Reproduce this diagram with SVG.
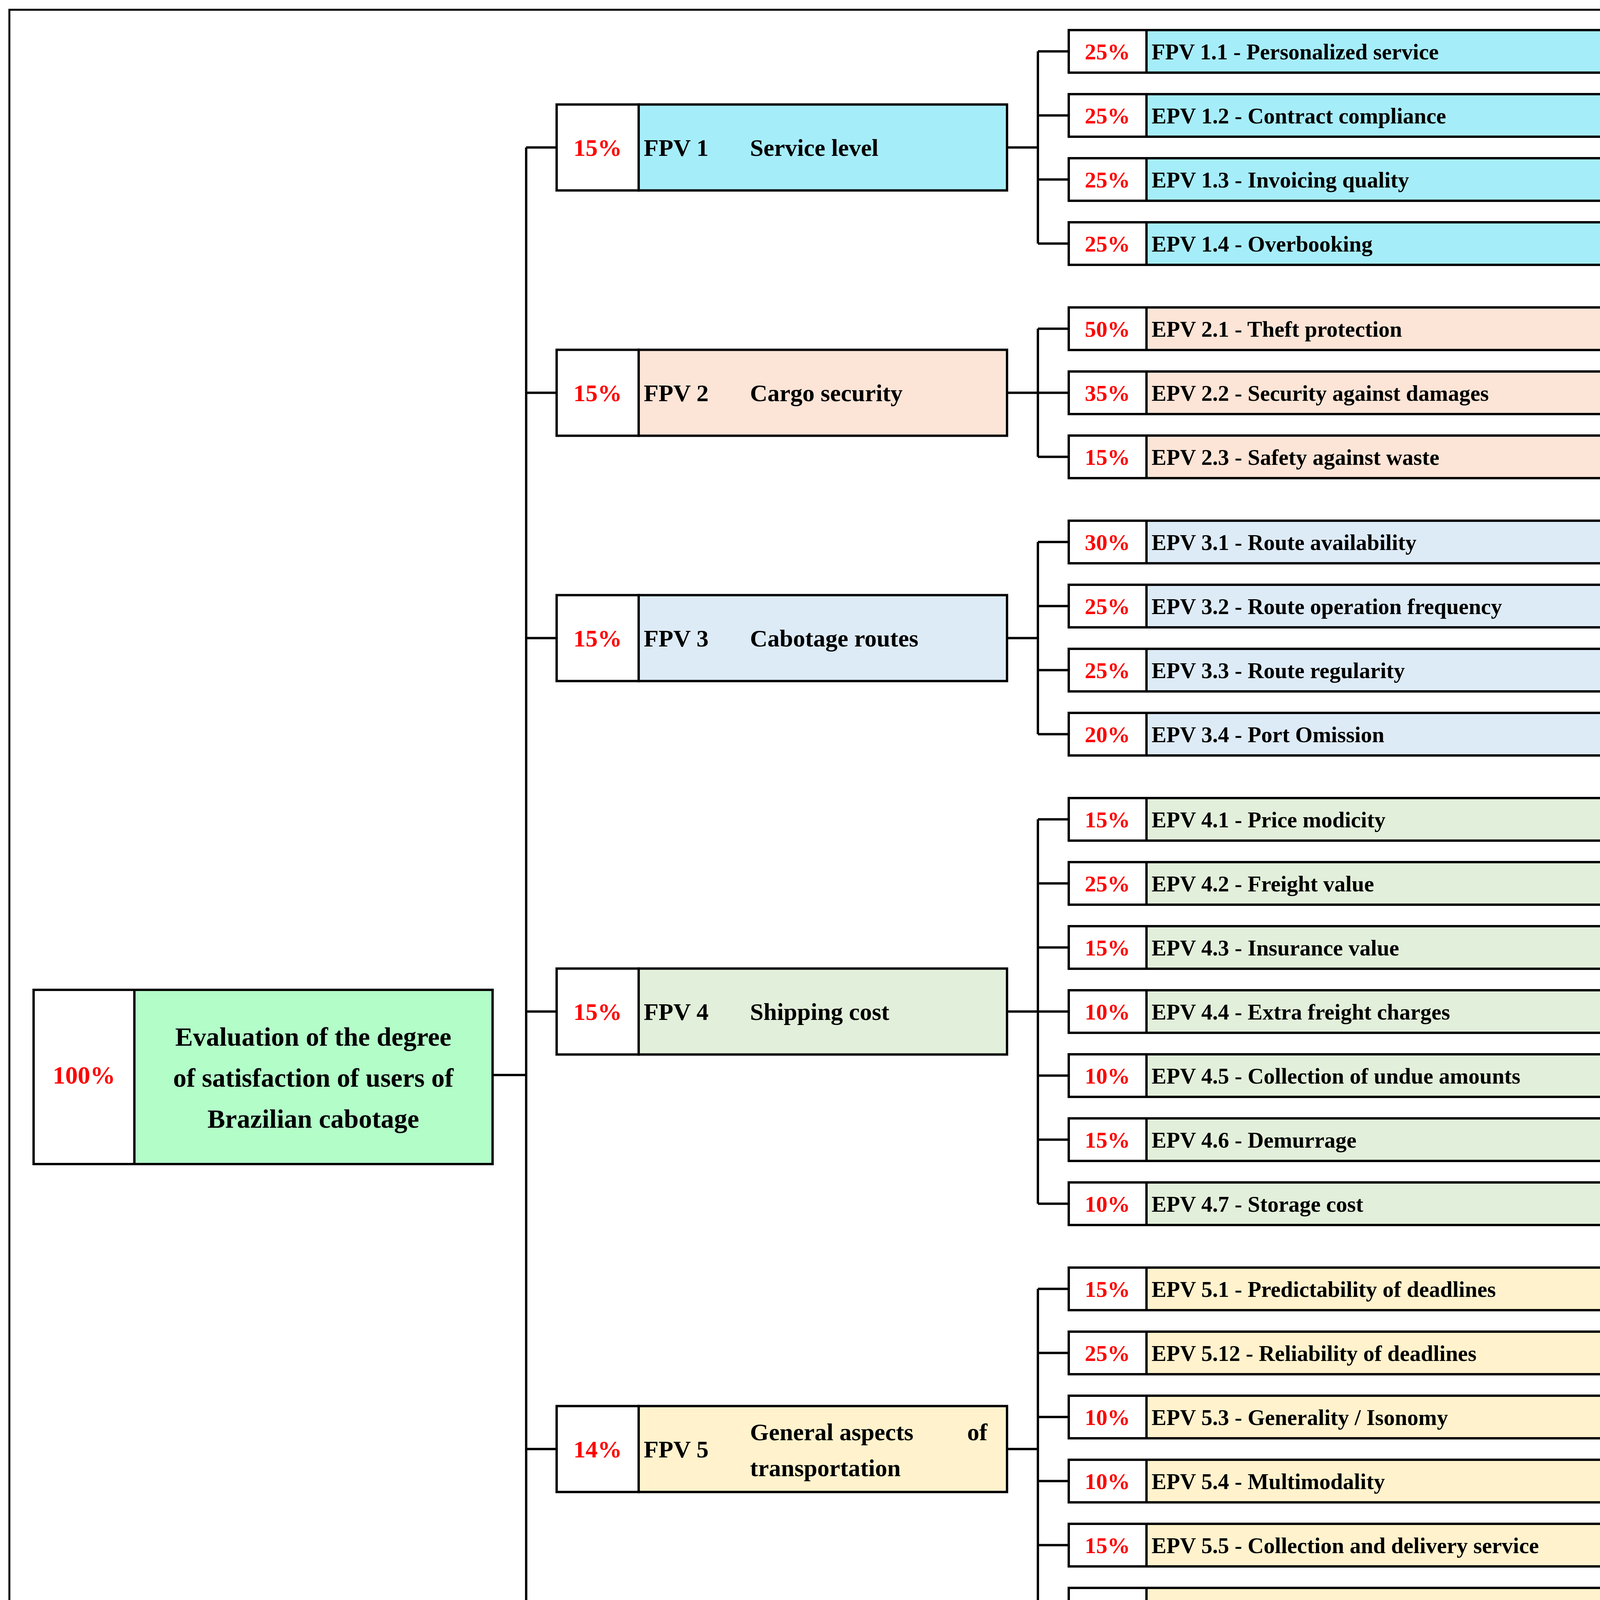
<svg xmlns="http://www.w3.org/2000/svg" width="4272" height="5678" viewBox="0 0 4272 5678">
<style>
text{font-family:"Liberation Serif","DejaVu Serif",serif;font-weight:bold}
.b{stroke:#000;stroke-width:6}
.p{fill:#f00;font-size:58px;text-anchor:middle}
.t{fill:#000;font-size:57px}
.f{fill:#000;font-size:62px}
.fp{fill:#f00;font-size:62px;text-anchor:middle}
.w{fill:#fff}
.c1{fill:#a6edfa}.c2{fill:#fce4d6}.c3{fill:#ddebf7}.c4{fill:#e2efda}.c5{fill:#fff2cc}.c6{fill:#d9e1f2}.c7{fill:#ededed}
.ln{fill:none;stroke:#000;stroke-width:6}
</style>
<rect x="0" y="0" width="4272" height="5678" fill="#fff"/>
<rect x="24" y="25" width="4221" height="5620" fill="none" stroke="#000" stroke-width="5"/>
<g id="connectors" class="ln">
<path d="M1261 2752H1347M1347 377.5V5211.5"/>
<path d="M1347 377.5H1425M1347 1005.5H1425M1347 1633.5H1425M1347 2589.5H1425M1347 3709.5H1425M1347 4501.5H1425M1347 5211.5H1425"/>
<path d="M2578 377.5H2657M2657 131.5V623.5M2657 131.5H2736M2657 295.5H2736M2657 459.5H2736M2657 623.5H2736"/>
<path d="M2578 1005.5H2657M2657 841.5V1169.5M2657 841.5H2736M2657 1005.5H2736M2657 1169.5H2736"/>
<path d="M2578 1633.5H2657M2657 1387.5V1879.5M2657 1387.5H2736M2657 1551.5H2736M2657 1715.5H2736M2657 1879.5H2736"/>
<path d="M2578 2589.5H2657M2657 2097.5V3081.5M2657 2097.5H2736M2657 2261.5H2736M2657 2425.5H2736M2657 2589.5H2736M2657 2753.5H2736M2657 2917.5H2736M2657 3081.5H2736"/>
<path d="M2578 3709.5H2657M2657 3299.5V4119.5M2657 3299.5H2736M2657 3463.5H2736M2657 3627.5H2736M2657 3791.5H2736M2657 3955.5H2736M2657 4119.5H2736"/>
<path d="M2578 4501.5H2657M2657 4337.5V4665.5M2657 4337.5H2736M2657 4501.5H2736M2657 4665.5H2736"/>
<path d="M2578 5211.5H2657M2657 4883.5V5539.5M2657 4883.5H2736M2657 5047.5H2736M2657 5211.5H2736M2657 5375.5H2736M2657 5539.5H2736"/>
</g>
<g id="root">
<rect class="b w" x="86" y="2534" width="258" height="446"/>
<rect class="b" x="344" y="2534" width="917" height="446" fill="#b3fdc9"/>
<text class="fp" x="215" y="2774" style="font-size:64px">100%</text>
<text class="f" x="802" y="2677" text-anchor="middle" style="font-size:68px">Evaluation of the degree</text>
<text class="f" x="802" y="2782" text-anchor="middle" style="font-size:68px">of satisfaction of users of</text>
<text class="f" x="802" y="2887" text-anchor="middle" style="font-size:68px">Brazilian cabotage</text>
</g>
<g id="fpv1"><rect class="b w" x="1425" y="267.5" width="210" height="220"/><rect class="b c1" x="1635" y="267.5" width="943" height="220"/><text class="fp" x="1530" y="399">15%</text><text class="f" x="1648" y="399">FPV 1</text><text class="f" x="1920" y="399">Service level</text></g>
<g id="fpv2"><rect class="b w" x="1425" y="895.5" width="210" height="220"/><rect class="b c2" x="1635" y="895.5" width="943" height="220"/><text class="fp" x="1530" y="1027">15%</text><text class="f" x="1648" y="1027">FPV 2</text><text class="f" x="1920" y="1027">Cargo security</text></g>
<g id="fpv3"><rect class="b w" x="1425" y="1523.5" width="210" height="220"/><rect class="b c3" x="1635" y="1523.5" width="943" height="220"/><text class="fp" x="1530" y="1655">15%</text><text class="f" x="1648" y="1655">FPV 3</text><text class="f" x="1920" y="1655">Cabotage routes</text></g>
<g id="fpv4"><rect class="b w" x="1425" y="2479.5" width="210" height="220"/><rect class="b c4" x="1635" y="2479.5" width="943" height="220"/><text class="fp" x="1530" y="2611">15%</text><text class="f" x="1648" y="2611">FPV 4</text><text class="f" x="1920" y="2611">Shipping cost</text></g>
<g id="fpv5"><rect class="b w" x="1425" y="3599.5" width="210" height="220"/><rect class="b c5" x="1635" y="3599.5" width="943" height="220"/><text class="fp" x="1530" y="3731">14%</text><text class="f" x="1648" y="3731">FPV 5</text><text class="f" x="1920" y="3687">General aspects</text><text class="f" x="2476" y="3687">of</text><text class="f" x="1920" y="3779">transportation</text></g>
<g id="fpv6"><rect class="b w" x="1425" y="4391.5" width="210" height="220"/><rect class="b c6" x="1635" y="4391.5" width="943" height="220"/><text class="fp" x="1530" y="4523">13%</text><text class="f" x="1648" y="4523">FPV 6</text><text class="f" x="1920" y="4481">Quality of</text><text class="f" x="1920" y="4571">information</text></g>
<g id="fpv7"><rect class="b w" x="1425" y="5101.5" width="210" height="220"/><rect class="b c7" x="1635" y="5101.5" width="943" height="220"/><text class="fp" x="1530" y="5233">13%</text><text class="f" x="1648" y="5233">FPV 7</text><text class="f" x="1920" y="5191">Other aspects of</text><text class="f" x="1920" y="5281">transportation</text></g>
<g id="epv1_1"><rect class="b w" x="2736" y="77" width="199" height="109"/><rect class="b c1" x="2935" y="77" width="1253" height="109"/><text class="p" x="2835" y="152">25%</text><text class="t" x="2948" y="152">FPV 1.1 - Personalized service</text></g>
<g id="epv1_2"><rect class="b w" x="2736" y="241" width="199" height="109"/><rect class="b c1" x="2935" y="241" width="1253" height="109"/><text class="p" x="2835" y="316">25%</text><text class="t" x="2948" y="316">EPV 1.2 - Contract compliance</text></g>
<g id="epv1_3"><rect class="b w" x="2736" y="405" width="199" height="109"/><rect class="b c1" x="2935" y="405" width="1253" height="109"/><text class="p" x="2835" y="480">25%</text><text class="t" x="2948" y="480">EPV 1.3 - Invoicing quality</text></g>
<g id="epv1_4"><rect class="b w" x="2736" y="569" width="199" height="109"/><rect class="b c1" x="2935" y="569" width="1253" height="109"/><text class="p" x="2835" y="644">25%</text><text class="t" x="2948" y="644">EPV 1.4 - Overbooking</text></g>
<g id="epv2_1"><rect class="b w" x="2736" y="787" width="199" height="109"/><rect class="b c2" x="2935" y="787" width="1253" height="109"/><text class="p" x="2835" y="862">50%</text><text class="t" x="2948" y="862">EPV 2.1 - Theft protection</text></g>
<g id="epv2_2"><rect class="b w" x="2736" y="951" width="199" height="109"/><rect class="b c2" x="2935" y="951" width="1253" height="109"/><text class="p" x="2835" y="1026">35%</text><text class="t" x="2948" y="1026">EPV 2.2 - Security against damages</text></g>
<g id="epv2_3"><rect class="b w" x="2736" y="1115" width="199" height="109"/><rect class="b c2" x="2935" y="1115" width="1253" height="109"/><text class="p" x="2835" y="1190">15%</text><text class="t" x="2948" y="1190">EPV 2.3 - Safety against waste</text></g>
<g id="epv3_1"><rect class="b w" x="2736" y="1333" width="199" height="109"/><rect class="b c3" x="2935" y="1333" width="1253" height="109"/><text class="p" x="2835" y="1408">30%</text><text class="t" x="2948" y="1408">EPV 3.1 - Route availability</text></g>
<g id="epv3_2"><rect class="b w" x="2736" y="1497" width="199" height="109"/><rect class="b c3" x="2935" y="1497" width="1253" height="109"/><text class="p" x="2835" y="1572">25%</text><text class="t" x="2948" y="1572">EPV 3.2 - Route operation frequency</text></g>
<g id="epv3_3"><rect class="b w" x="2736" y="1661" width="199" height="109"/><rect class="b c3" x="2935" y="1661" width="1253" height="109"/><text class="p" x="2835" y="1736">25%</text><text class="t" x="2948" y="1736">EPV 3.3 - Route regularity</text></g>
<g id="epv3_4"><rect class="b w" x="2736" y="1825" width="199" height="109"/><rect class="b c3" x="2935" y="1825" width="1253" height="109"/><text class="p" x="2835" y="1900">20%</text><text class="t" x="2948" y="1900">EPV 3.4 - Port Omission</text></g>
<g id="epv4_1"><rect class="b w" x="2736" y="2043" width="199" height="109"/><rect class="b c4" x="2935" y="2043" width="1253" height="109"/><text class="p" x="2835" y="2118">15%</text><text class="t" x="2948" y="2118">EPV 4.1 - Price modicity</text></g>
<g id="epv4_2"><rect class="b w" x="2736" y="2207" width="199" height="109"/><rect class="b c4" x="2935" y="2207" width="1253" height="109"/><text class="p" x="2835" y="2282">25%</text><text class="t" x="2948" y="2282">EPV 4.2 - Freight value</text></g>
<g id="epv4_3"><rect class="b w" x="2736" y="2371" width="199" height="109"/><rect class="b c4" x="2935" y="2371" width="1253" height="109"/><text class="p" x="2835" y="2446">15%</text><text class="t" x="2948" y="2446">EPV 4.3 - Insurance value</text></g>
<g id="epv4_4"><rect class="b w" x="2736" y="2535" width="199" height="109"/><rect class="b c4" x="2935" y="2535" width="1253" height="109"/><text class="p" x="2835" y="2610">10%</text><text class="t" x="2948" y="2610">EPV 4.4 - Extra freight charges</text></g>
<g id="epv4_5"><rect class="b w" x="2736" y="2699" width="199" height="109"/><rect class="b c4" x="2935" y="2699" width="1253" height="109"/><text class="p" x="2835" y="2774">10%</text><text class="t" x="2948" y="2774">EPV 4.5 - Collection of undue amounts</text></g>
<g id="epv4_6"><rect class="b w" x="2736" y="2863" width="199" height="109"/><rect class="b c4" x="2935" y="2863" width="1253" height="109"/><text class="p" x="2835" y="2938">15%</text><text class="t" x="2948" y="2938">EPV 4.6 - Demurrage</text></g>
<g id="epv4_7"><rect class="b w" x="2736" y="3027" width="199" height="109"/><rect class="b c4" x="2935" y="3027" width="1253" height="109"/><text class="p" x="2835" y="3102">10%</text><text class="t" x="2948" y="3102">EPV 4.7 - Storage cost</text></g>
<g id="epv5_1"><rect class="b w" x="2736" y="3245" width="199" height="109"/><rect class="b c5" x="2935" y="3245" width="1253" height="109"/><text class="p" x="2835" y="3320">15%</text><text class="t" x="2948" y="3320">EPV 5.1 - Predictability of deadlines</text></g>
<g id="epv5_2"><rect class="b w" x="2736" y="3409" width="199" height="109"/><rect class="b c5" x="2935" y="3409" width="1253" height="109"/><text class="p" x="2835" y="3484">25%</text><text class="t" x="2948" y="3484">EPV 5.12 - Reliability of deadlines</text></g>
<g id="epv5_3"><rect class="b w" x="2736" y="3573" width="199" height="109"/><rect class="b c5" x="2935" y="3573" width="1253" height="109"/><text class="p" x="2835" y="3648">10%</text><text class="t" x="2948" y="3648">EPV 5.3 - Generality / Isonomy</text></g>
<g id="epv5_4"><rect class="b w" x="2736" y="3737" width="199" height="109"/><rect class="b c5" x="2935" y="3737" width="1253" height="109"/><text class="p" x="2835" y="3812">10%</text><text class="t" x="2948" y="3812">EPV 5.4 - Multimodality</text></g>
<g id="epv5_5"><rect class="b w" x="2736" y="3901" width="199" height="109"/><rect class="b c5" x="2935" y="3901" width="1253" height="109"/><text class="p" x="2835" y="3976">15%</text><text class="t" x="2948" y="3976">EPV 5.5 - Collection and delivery service</text></g>
<g id="epv5_6"><rect class="b w" x="2736" y="4065" width="199" height="109"/><rect class="b c5" x="2935" y="4065" width="1253" height="109"/><text class="p" x="2835" y="4140">25%</text><text class="t" x="2948" y="4140">EPV 5.6 - Total transportation time</text></g>
<g id="epv6_1"><rect class="b w" x="2736" y="4283" width="199" height="109"/><rect class="b c6" x="2935" y="4283" width="1253" height="109"/><text class="p" x="2835" y="4358">30%</text><text class="t" x="2948" y="4358">EPV 6.1 - Advance information</text></g>
<g id="epv6_2"><rect class="b w" x="2736" y="4447" width="199" height="109"/><rect class="b c6" x="2935" y="4447" width="1253" height="109"/><text class="p" x="2835" y="4522">20%</text><text class="t" x="2948" y="4522">EPV 6.2 - Information during transport</text></g>
<g id="epv6_3"><rect class="b w" x="2736" y="4611" width="199" height="109"/><rect class="b c6" x="2935" y="4611" width="1253" height="109"/><text class="p" x="2835" y="4686">50%</text><text class="t" x="2948" y="4686">EPV 6.3 - Cargo traceability</text></g>
<g id="epv7_1"><rect class="b w" x="2736" y="4829" width="199" height="109"/><rect class="b c7" x="2935" y="4829" width="1253" height="109"/><text class="p" x="2835" y="4904">20%</text><text class="t" x="2948" y="4904">EPV 7.1 - Up-to-Date / Modernization</text></g>
<g id="epv7_2"><rect class="b w" x="2736" y="4993" width="199" height="109"/><rect class="b c7" x="2935" y="4993" width="1253" height="109"/><text class="p" x="2835" y="5068">10%</text><text class="t" x="2948" y="5068">EPV 7.2 - Time to deliver the container</text></g>
<g id="epv7_3"><rect class="b w" x="2736" y="5157" width="199" height="109"/><rect class="b c7" x="2935" y="5157" width="1253" height="109"/><text class="p" x="2835" y="5232">40%</text><text class="t" x="2948" y="5232">EPV 7.3 - Time of cargo clearance</text></g>
<g id="epv7_4"><rect class="b w" x="2736" y="5321" width="199" height="109"/><rect class="b c7" x="2935" y="5321" width="1253" height="109"/><text class="p" x="2835" y="5396">15%</text><text class="t" x="2948" y="5396">EPV 7.4 - Fractional delivery</text></g>
<g id="epv7_5"><rect class="b w" x="2736" y="5485" width="199" height="109"/><rect class="b c7" x="2935" y="5485" width="1253" height="109"/><text class="p" x="2835" y="5560">15%</text><text class="t" x="2948" y="5560">EPV 7.5 - Door-to-door transportation</text></g>
</svg>
